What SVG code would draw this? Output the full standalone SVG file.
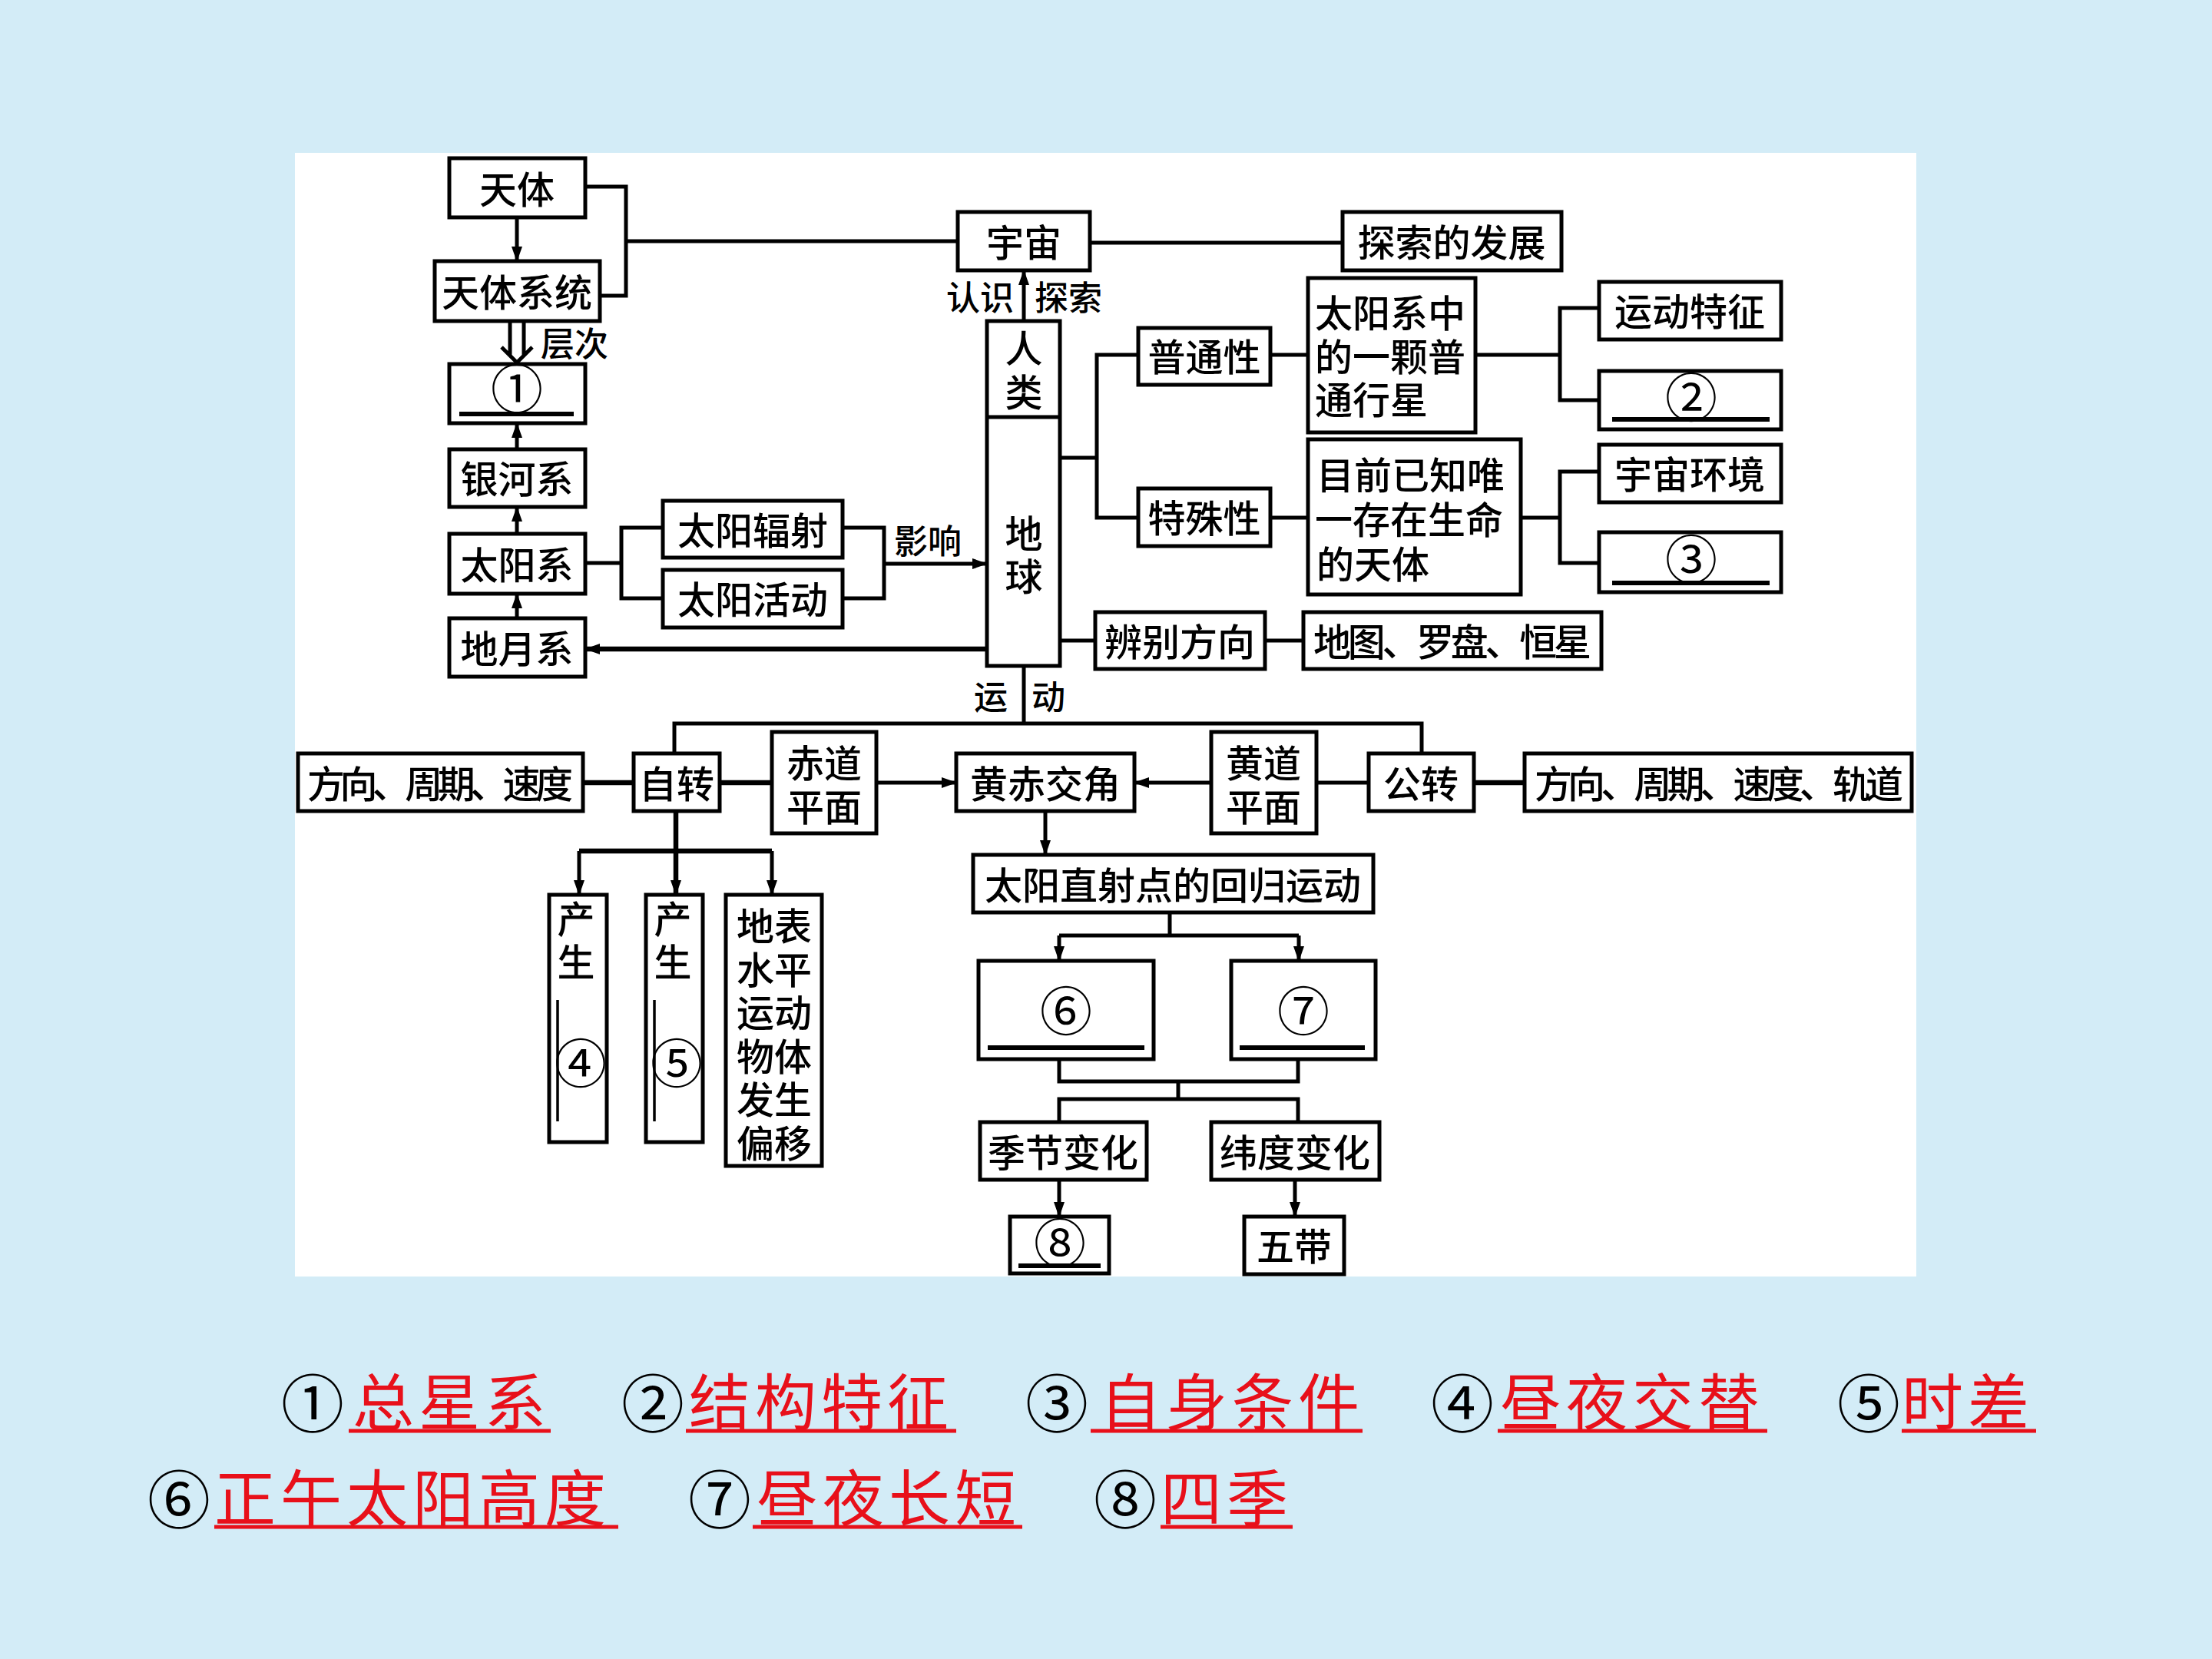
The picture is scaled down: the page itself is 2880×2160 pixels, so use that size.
<svg xmlns="http://www.w3.org/2000/svg" width="2880" height="2160" viewBox="0 0 2880 2160">
<defs>
<style>
.box{fill:#fff;stroke:#000;stroke-width:5}
.ln{fill:none;stroke:#000;stroke-width:5}
.thk{stroke-width:6.5}
.t{font-family:"Noto Sans CJK SC","Noto Sans CJK TC",sans-serif;font-size:49px;font-weight:500;text-anchor:middle;dominant-baseline:central;fill:#000}
.s{text-anchor:start}
.v{writing-mode:vertical-rl;text-anchor:start}
.lbl{font-size:44px}
.num{font-size:68px;font-weight:400}
.ul{stroke:#000;stroke-width:6}
.ans{font-family:"Noto Sans CJK SC",sans-serif;font-size:80px;letter-spacing:6px;fill:#e8101a;dominant-baseline:central}
.cn{font-family:"Noto Sans CJK SC",sans-serif;font-size:82px;fill:#000;text-anchor:middle;dominant-baseline:central}
.rul{stroke:#e8101a;stroke-width:5}
</style>
<marker id="ar" markerUnits="userSpaceOnUse" viewBox="0 0 20 14" markerWidth="20" markerHeight="14" refX="19" refY="7" orient="auto">
<path d="M0,0 L20,7 L0,14 z" fill="#000"/>
</marker>
</defs>
<rect x="0" y="0" width="2880" height="2160" fill="#d3ecf7"/>
<rect x="384" y="199" width="2111" height="1463" fill="#fff"/>

<g id="connectors">
<path class="ln" d="M673,283 V340" marker-end="url(#ar)"/>
<path class="ln" d="M664,418 V462 M682,418 V462 M653,452 L673,472 L693,452"/>
<path class="ln" d="M673,585 V551" marker-end="url(#ar)"/>
<path class="ln" d="M673,695 V660" marker-end="url(#ar)"/>
<path class="ln" d="M673,805 V773" marker-end="url(#ar)"/>
<path class="ln" d="M762,243 H815 V385 H781 M815,314 H1247"/>
<path class="ln" d="M1419,316 H1748"/>
<path class="ln" d="M1333,418 V352" marker-end="url(#ar)"/>
<path class="ln" d="M762,733 H809 M863,687 H809 V779 H863"/>
<path class="ln" d="M1097,687 H1151 V779 H1097"/>
<path class="ln" d="M1151,734 H1285" marker-end="url(#ar)"/>
<path class="ln thk" d="M1285,845 H762" marker-end="url(#ar)"/>
<path class="ln" d="M1380,596 H1428 M1482,462 H1428 V674 H1482"/>
<path class="ln" d="M1654,462 H1703 M1654,674 H1703"/>
<path class="ln" d="M1921,462 H2031 M2082,401 H2031 V521 H2082"/>
<path class="ln" d="M1980,674 H2031 M2082,614 H2031 V733 H2082"/>
<path class="ln" d="M1380,834 H1426 M1647,834 H1697"/>
<path class="ln" d="M1333,867 V942 M878,981 V942 H1851 V981"/>
<path class="ln thk" d="M759,1019 H825 M937,1019 H1005"/>
<path class="ln" d="M1141,1019 H1245" marker-end="url(#ar)"/>
<path class="ln" d="M1577,1019 H1477" marker-end="url(#ar)"/>
<path class="ln" d="M1714,1019 H1782"/>
<path class="ln thk" d="M1919,1019 H1985"/>
<path class="ln thk" d="M880,1056 V1108 M754,1108 H1005"/>
<path class="ln" d="M754,1108 V1165" marker-end="url(#ar)"/>
<path class="ln thk" d="M880,1108 V1165" marker-end="url(#ar)"/>
<path class="ln" d="M1005,1108 V1165" marker-end="url(#ar)"/>
<path class="ln" d="M1361,1056 V1113" marker-end="url(#ar)"/>
<path class="ln" d="M1523,1188 V1218 M1379,1218 H1691"/>
<path class="ln" d="M1379,1218 V1251" marker-end="url(#ar)"/>
<path class="ln" d="M1691,1218 V1251" marker-end="url(#ar)"/>
<path class="ln" d="M1379,1379 V1408 H1690 V1379 M1534,1408 V1431 M1379,1461 V1431 H1690 V1461"/>
<path class="ln" d="M1379,1536 V1584" marker-end="url(#ar)"/>
<path class="ln" d="M1686,1536 V1584" marker-end="url(#ar)"/>
</g>

<g id="labels">
<text class="t lbl" x="748" y="445">层次</text>
<text class="t lbl" x="1276" y="385">认识</text>
<text class="t lbl" x="1391" y="385">探索</text>
<text class="t lbl" x="1208" y="702">影响</text>
<text class="t lbl" x="1290" y="905">运</text>
<text class="t lbl" x="1365" y="905">动</text>
</g>

<g id="n-tianti"><rect class="box" x="585" y="206" width="177" height="77"/><text class="t" x="673" y="243">天体</text></g>
<g id="n-tiantixitong"><rect class="box" x="566" y="340" width="215" height="78"/><text class="t" x="673" y="377">天体系统</text></g>
<g id="n-q1"><rect class="box" x="585" y="474" width="177" height="77"/><text class="t num" x="673" y="502">①</text><line class="ul" x1="598" y1="539" x2="747" y2="539"/></g>
<g id="n-yinhexi"><rect class="box" x="585" y="585" width="177" height="75"/><text class="t" x="673" y="620">银河系</text></g>
<g id="n-taiyangxi"><rect class="box" x="585" y="695" width="177" height="78"/><text class="t" x="673" y="732">太阳系</text></g>
<g id="n-diyuexi"><rect class="box" x="585" y="805" width="177" height="76"/><text class="t" x="673" y="841">地月系</text></g>
<g id="n-fushe"><rect class="box" x="863" y="652" width="234" height="74"/><text class="t" x="980" y="687">太阳辐射</text></g>
<g id="n-huodong"><rect class="box" x="863" y="742" width="234" height="75"/><text class="t" x="980" y="777">太阳活动</text></g>
<g id="n-yuzhou"><rect class="box" x="1247" y="276" width="172" height="76"/><text class="t" x="1333" y="312">宇宙</text></g>
<g id="n-tansuo"><rect class="box" x="1748" y="276" width="285" height="76"/><text class="t" x="1890" y="312">探索的发展</text></g>
<g id="n-renlei-diqiu"><rect class="box" x="1285" y="418" width="95" height="449"/><line class="ln" x1="1285" y1="543" x2="1380" y2="543"/>
<text class="t v" x="1333" y="429" style="letter-spacing:8px">人类</text>
<text class="t v" x="1333" y="670" style="letter-spacing:7px">地球</text></g>
<g id="n-putong"><rect class="box" x="1482" y="427" width="172" height="74"/><text class="t" x="1568" y="461">普通性</text></g>
<g id="n-teshu"><rect class="box" x="1482" y="636" width="172" height="75"/><text class="t" x="1568" y="671">特殊性</text></g>
<g id="n-putongxing-desc"><rect class="box" x="1703" y="362" width="218" height="201"/>
<text class="t s"><tspan x="1712" y="404">太阳系中</tspan><tspan x="1712" y="461">的一颗普</tspan><tspan x="1712" y="517">通行星</tspan></text></g>
<g id="n-teshu-desc"><rect class="box" x="1703" y="572" width="277" height="202"/>
<text class="t s"><tspan x="1714" y="615">目前已知唯</tspan><tspan x="1712" y="673">一存在生命</tspan><tspan x="1714" y="731">的天体</tspan></text></g>
<g id="n-yundongtezheng"><rect class="box" x="2082" y="367" width="237" height="75"/><text class="t" x="2200" y="402">运动特征</text></g>
<g id="n-q2"><rect class="box" x="2082" y="483" width="237" height="76"/><text class="t num" x="2202" y="513">②</text><line class="ul" x1="2099" y1="546" x2="2304" y2="546"/></g>
<g id="n-yuzhouhuanjing"><rect class="box" x="2082" y="579" width="237" height="75"/><text class="t" x="2200" y="614">宇宙环境</text></g>
<g id="n-q3"><rect class="box" x="2082" y="693" width="237" height="78"/><text class="t num" x="2202" y="724">③</text><line class="ul" x1="2099" y1="759" x2="2304" y2="759"/></g>
<g id="n-bianbie"><rect class="box" x="1426" y="797" width="221" height="74"/><text class="t" x="1536" y="832">辨别方向</text></g>
<g id="n-ditu"><rect class="box" x="1697" y="797" width="388" height="74"/><text class="t" x="1891" y="832" textLength="362" lengthAdjust="spacing">地图、罗盘、恒星</text></g>
<g id="n-fangxiang1"><rect class="box" x="388" y="981" width="371" height="75"/><text class="t" x="573" y="1017" textLength="346" lengthAdjust="spacing">方向、周期、速度</text></g>
<g id="n-zizhuan"><rect class="box" x="825" y="981" width="112" height="75"/><text class="t" x="881" y="1017">自转</text></g>
<g id="n-chidao"><rect class="box" x="1005" y="953" width="136" height="132"/><text class="t"><tspan x="1073" y="990">赤道</tspan><tspan x="1073" y="1047">平面</tspan></text></g>
<g id="n-huangchi"><rect class="box" x="1245" y="981" width="232" height="75"/><text class="t" x="1361" y="1017">黄赤交角</text></g>
<g id="n-huangdao"><rect class="box" x="1577" y="953" width="137" height="132"/><text class="t"><tspan x="1645" y="990">黄道</tspan><tspan x="1645" y="1047">平面</tspan></text></g>
<g id="n-gongzhuan"><rect class="box" x="1782" y="981" width="137" height="75"/><text class="t" x="1850" y="1017">公转</text></g>
<g id="n-fangxiang2"><rect class="box" x="1985" y="981" width="504" height="75"/><text class="t" x="2238" y="1017" textLength="480" lengthAdjust="spacing">方向、周期、速度、轨道</text></g>
<g id="n-q4"><rect class="box" x="715" y="1165" width="75" height="322"/><text class="t v" x="750" y="1172" style="letter-spacing:7px">产生</text><line x1="726" y1="1302" x2="726" y2="1460" stroke="#000" stroke-width="3.5"/><text class="t num" x="756" y="1380">④</text></g>
<g id="n-q5"><rect class="box" x="841" y="1165" width="74" height="322"/><text class="t v" x="876" y="1172" style="letter-spacing:7px">产生</text><line x1="852" y1="1302" x2="852" y2="1460" stroke="#000" stroke-width="3.5"/><text class="t num" x="881" y="1380">⑤</text></g>
<g id="n-pianyi"><rect class="box" x="945" y="1165" width="125" height="353"/>
<text class="t"><tspan x="1008" y="1202">地表</tspan><tspan x="1008" y="1259">水平</tspan><tspan x="1008" y="1315">运动</tspan><tspan x="1008" y="1372">物体</tspan><tspan x="1008" y="1428">发生</tspan><tspan x="1008" y="1485">偏移</tspan></text></g>
<g id="n-huigui"><rect class="box" x="1267" y="1113" width="521" height="75"/><text class="t" x="1527" y="1149">太阳直射点的回归运动</text></g>
<g id="n-q6"><rect class="box" x="1274" y="1251" width="228" height="128"/><text class="t num" x="1388" y="1312">⑥</text><line class="ul" x1="1286" y1="1364" x2="1490" y2="1364"/></g>
<g id="n-q7"><rect class="box" x="1603" y="1251" width="188" height="128"/><text class="t num" x="1697" y="1312">⑦</text><line class="ul" x1="1614" y1="1364" x2="1777" y2="1364"/></g>
<g id="n-jijie"><rect class="box" x="1276" y="1461" width="217" height="75"/><text class="t" x="1384" y="1497">季节变化</text></g>
<g id="n-weidu"><rect class="box" x="1577" y="1461" width="219" height="75"/><text class="t" x="1686" y="1497">纬度变化</text></g>
<g id="n-q8"><rect class="box" x="1315" y="1584" width="129" height="74"/><text class="t num" x="1380" y="1614">⑧</text><line class="ul" x1="1326" y1="1648" x2="1433" y2="1648"/></g>
<g id="n-wudai"><rect class="box" x="1620" y="1584" width="130" height="75"/><text class="t" x="1685" y="1619">五带</text></g>

<g id="answers">
<text class="cn" x="407" y="1822">①</text><text class="ans" x="459" y="1820">总星系</text><line class="rul" x1="454" y1="1863" x2="717" y2="1863"/>
<text class="cn" x="850" y="1822">②</text><text class="ans" x="897" y="1820">结构特征</text><line class="rul" x1="893" y1="1863" x2="1245" y2="1863"/>
<text class="cn" x="1376" y="1822">③</text><text class="ans" x="1432" y="1820">自身条件</text><line class="rul" x1="1420" y1="1863" x2="1774" y2="1863"/>
<text class="cn" x="1904" y="1822">④</text><text class="ans" x="1953" y="1820">昼夜交替</text><line class="rul" x1="1950" y1="1863" x2="2301" y2="1863"/>
<text class="cn" x="2433" y="1822">⑤</text><text class="ans" x="2476" y="1820">时差</text><line class="rul" x1="2476" y1="1863" x2="2651" y2="1863"/>
<text class="cn" x="233" y="1947">⑥</text><text class="ans" x="279" y="1945">正午太阳高度</text><line class="rul" x1="279" y1="1988" x2="805" y2="1988"/>
<text class="cn" x="937" y="1947">⑦</text><text class="ans" x="985" y="1945">昼夜长短</text><line class="rul" x1="980" y1="1988" x2="1331" y2="1988"/>
<text class="cn" x="1465" y="1947">⑧</text><text class="ans" x="1511" y="1945">四季</text><line class="rul" x1="1511" y1="1988" x2="1683" y2="1988"/>
</g>
</svg>
